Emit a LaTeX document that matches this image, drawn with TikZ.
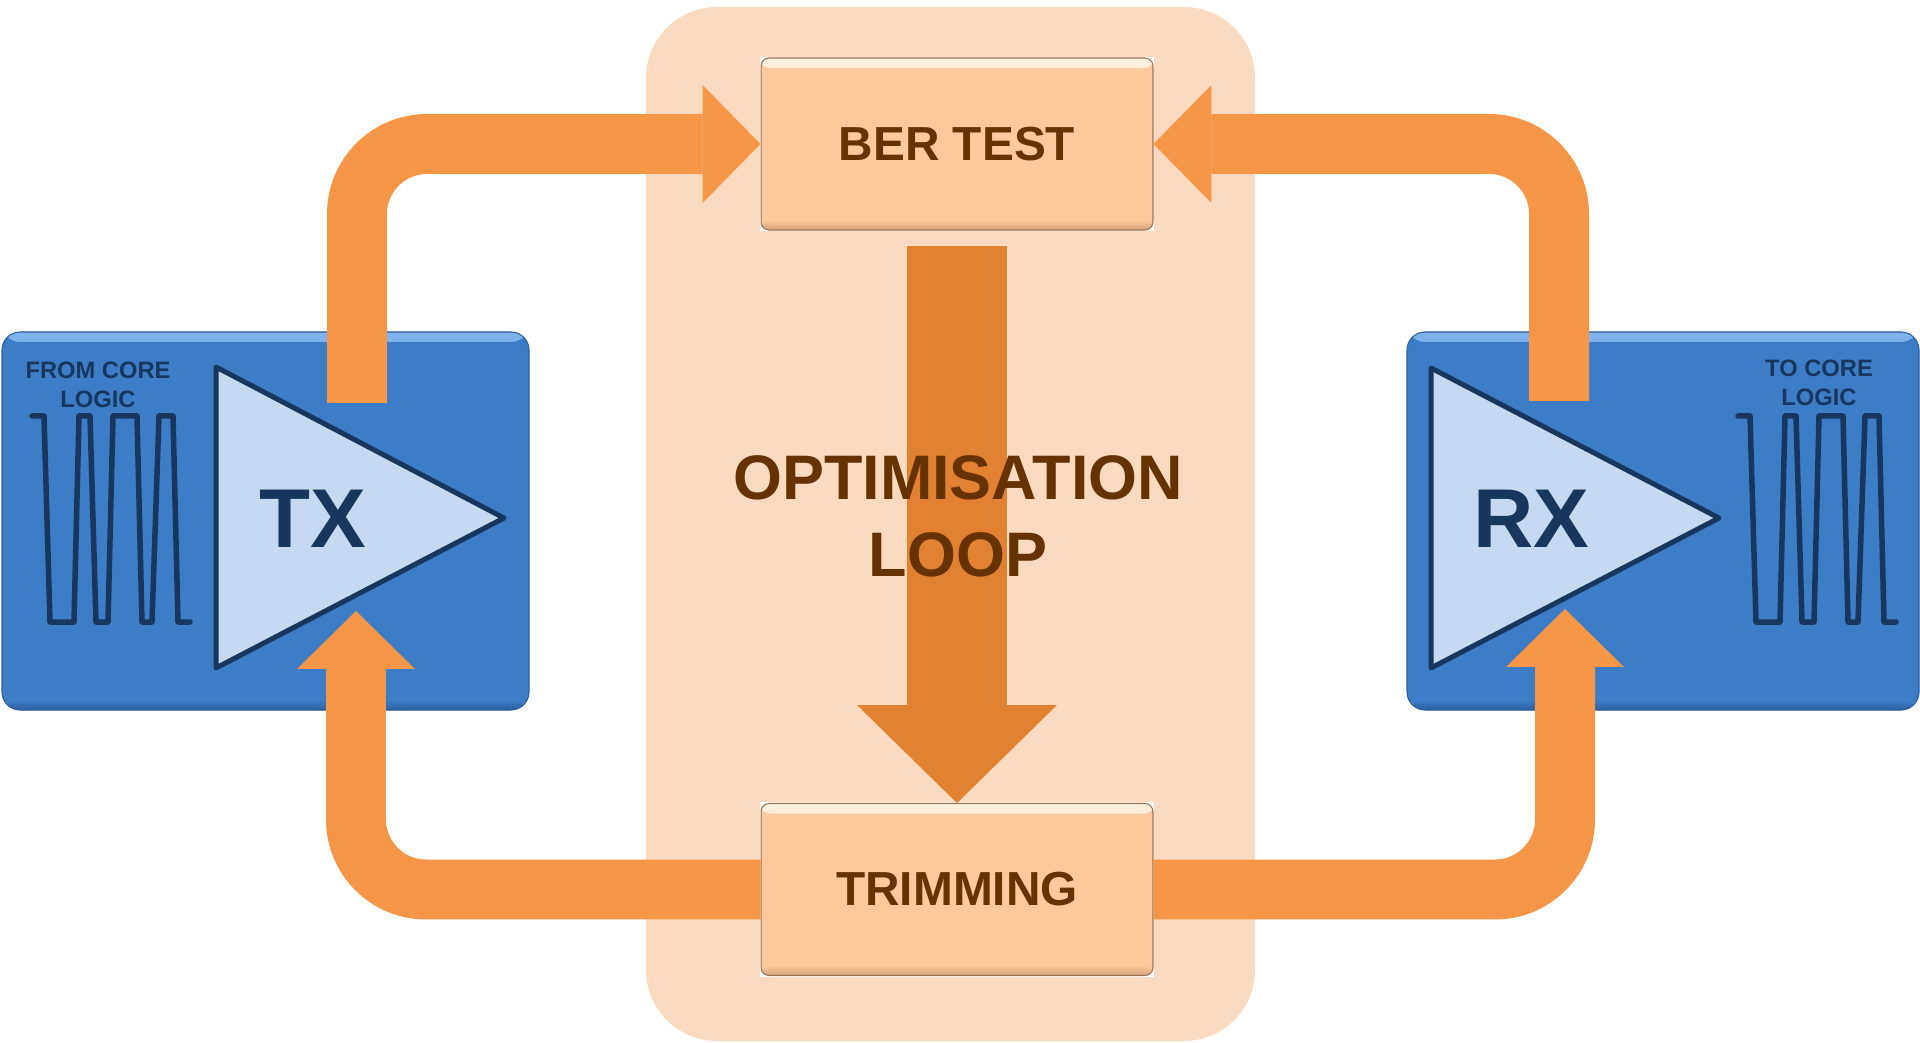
\documentclass[tikz,border=0pt]{standalone}
\usepackage{fontspec}
\setmainfont{Liberation Sans}
\usetikzlibrary{arrows.meta}

\definecolor{panel}{HTML}{FBDAC0}
\definecolor{stagefill}{HTML}{FDC99D}
\definecolor{stagetop}{HTML}{FFF1DC}
\definecolor{stageshadow}{HTML}{D6A47A}
\definecolor{stageline}{HTML}{9C7352}
\definecolor{brownt}{HTML}{663300}
\definecolor{chipblue}{HTML}{3C7DC6}
\definecolor{chiptop}{HTML}{7FB3EE}
\definecolor{chipshadow}{HTML}{2D609F}
\definecolor{chipline}{HTML}{2C5E9E}
\definecolor{navy}{HTML}{17375E}
\definecolor{ampfill}{HTML}{C6D9F0}
\definecolor{looporange}{HTML}{F79646}
\definecolor{droporange}{HTML}{E2812F}

\tikzset{
  pics/bits/.style={code={
    \draw[wave] (0,416) -- (12,416) -- (18,622) -- (42,622) -- (47,416) -- (58,416)
      -- (64,622) -- (76,622) -- (81,416) -- (105,416) -- (110,622) -- (120,622)
      -- (127,416) -- (141,416) -- (146,622) -- (158,622);
  }},
  % soft bevel along top and bottom edges
  bevel/.style n args={3}{path picture={
    \shade[top color=#1, bottom color=#2] (path picture bounding box.north west)
      rectangle ([yshift=-0.2cm]path picture bounding box.north east);
    \shade[top color=#2, bottom color=#3] ([yshift=0.2cm]path picture bounding box.south west)
      rectangle (path picture bounding box.south east);
  }}
}

\begin{document}
\begin{tikzpicture}[x=0.02cm, y=-0.02cm,
    stage/.style={draw=stageline, line width=0.6pt, fill=stagefill, rounded corners=0.16cm,
      bevel={stagetop}{stagefill}{stageshadow},
      minimum width=7.84cm, minimum height=3.44cm, text=brownt,
      font=\fontsize{27.2}{32}\selectfont\bfseries},
    chip/.style={draw=chipline, line width=0.6pt, fill=chipblue, rounded corners=0.36cm,
      bevel={chiptop}{chipblue}{chipshadow}},
    amp/.style={draw=navy, line width=0.1cm, fill=ampfill, line join=round},
    amplabel/.style={text=navy, inner sep=0, font=\fontsize{47.5}{50}\selectfont\bfseries},
    corelabel/.style={text=navy, align=center, inner sep=0,
      font=\fontsize{13.5}{16.2}\selectfont\bfseries},
    wave/.style={draw=navy, line width=0.11cm, line join=round, line cap=round},
    loop arrow/.style={draw=looporange, line width=1.2cm, rounded corners=1.4cm,
      -{Triangle[width=2.36cm, length=1.16cm, line width=0pt]}},
    drop arrow/.style={draw=droporange, line width=2cm,
      -{Triangle[width=4cm, length=1.96cm, line width=0pt]}}]
  \useasboundingbox (0,0) rectangle (1920,1043);

  % loop panel
  \fill[panel, rounded corners=1.42cm] (646,7) rectangle (1255,1041);

  % transmitter and receiver
  \draw[chip] (2,332) rectangle (529,710);
  \draw[chip] (1407,332) rectangle (1919,710);
  \draw[amp] (216,367) -- (216,668) -- (504,518) -- cycle;
  \draw[amp] (1431,368) -- (1431,668) -- (1719,518) -- cycle;
  \node[amplabel] (tx) at (313,519) {TX};
  \node[amplabel] (rx) at (1531,519) {RX};
  \node[corelabel] (fromcore) at (98,385) {FROM CORE\\LOGIC};
  \node[corelabel] (tocore) at (1819,383) {TO CORE\\LOGIC};
  \pic at (32,0) {bits};
  \pic at (1738,0) {bits};

  % test and trim stages
  \fill[white] (760,57) rectangle (1154,231);
  \fill[white] (760,802) rectangle (1154,977);
  \node[stage] (ber) at (957,144) {BER TEST};
  \node[stage] (trim) at (957,889.5) {TRIMMING};

  \coordinate (txout) at (357,403);
  \coordinate (txin) at (356,611);
  \coordinate (rxout) at (1559,401);
  \coordinate (rxin) at (1565,609);
  \coordinate (droptop) at (957,246);

  \draw[loop arrow] (txout) |- (ber.west);
  \draw[loop arrow] (rxout) |- (ber.east);
  \draw[loop arrow] (trim.west) -| (txin);
  \draw[loop arrow] (trim.east) -| (rxin);
  \draw[drop arrow] (droptop) -- (trim.north);

  \node[align=center, text=brownt, inner sep=0, font=\fontsize{35.8}{43.8}\selectfont\bfseries]
    (optlabel) at (958,516) {OPTIMISATION\\LOOP};
\end{tikzpicture}
\end{document}
